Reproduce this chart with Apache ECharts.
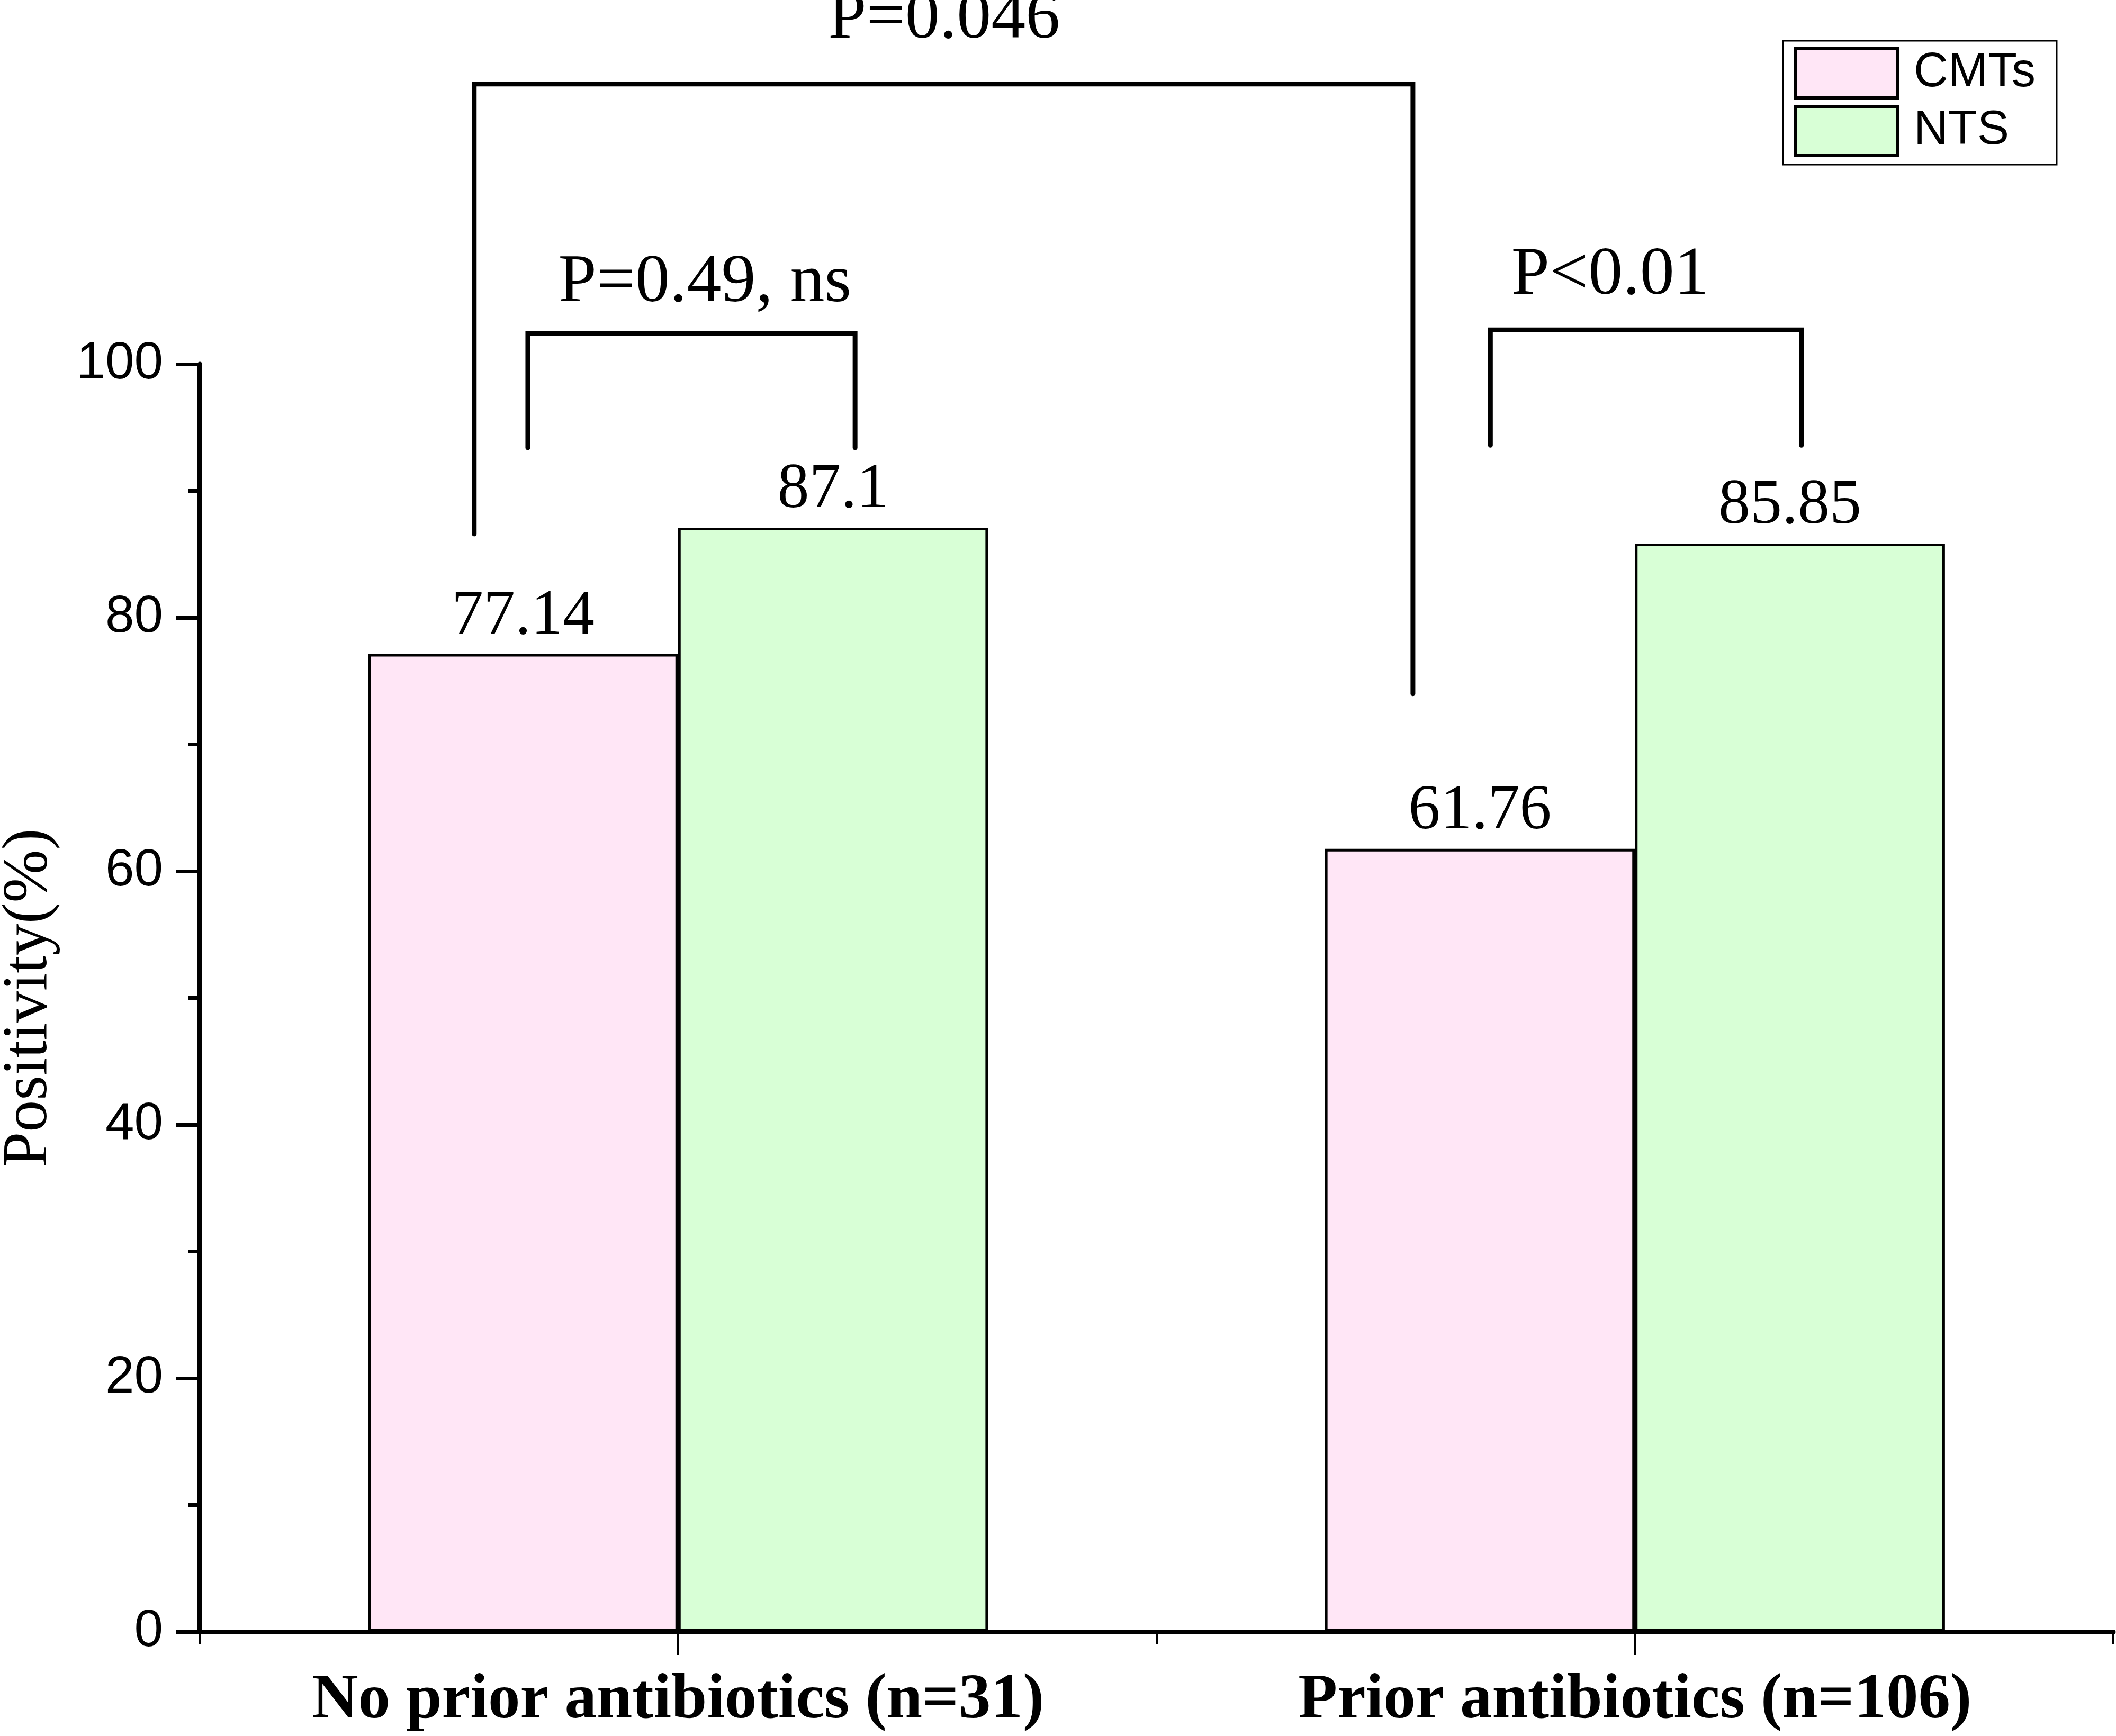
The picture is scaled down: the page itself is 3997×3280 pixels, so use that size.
<!DOCTYPE html>
<html>
<head>
<meta charset="utf-8">
<script src="https://cdn.jsdelivr.net/npm/echarts@6/dist/echarts.min.js"></script>
<style>html,body{margin:0;padding:0;background:#fff;}#c{width:3997px;height:3280px;}</style>
</head>
<body>
<div id="c"></div>
<script>
// ---- data ----
const categories = ['No prior antibiotics (n=31)', 'Prior antibiotics (n=106)'];
const seriesNames = ['CMTs', 'NTS'];
const cmtsValues = [77.14, 61.76];
const ntsValues = [87.1, 85.85];
const yTicks = [0, 20, 40, 60, 80, 100];
// significance brackets (x in category units: 0 = first group centre, 1 = second; y in %)
const bracketLabels = ['P=0.046', 'P=0.49, ns', 'P<0.01'];
const bracketX1 = [-0.213, -0.157, 0.849];
const bracketX2 = [0.768, 0.185, 1.174];
const bracketTop = [122.1, 102.4, 102.7];
const bracketLeftEnd = [86.6, 93.4, 93.6];
const bracketRightEnd = [74.0, 93.4, 93.6];
const bracketLabelX = [0.278, 0.028, 0.974];
const bracketLabelY = [125.4, 104.6, 105.2];

const SERIF = 'Liberation Serif';
const SANS = 'Liberation Sans';
const bracketData = bracketLabels.map((_, i) => [bracketX1[i], bracketX2[i], bracketTop[i], bracketLeftEnd[i], bracketRightEnd[i], bracketLabelX[i], bracketLabelY[i]]);

const chart = echarts.init(document.getElementById('c'), null, {renderer: 'canvas'});
const barLabel = {show: true, position: 'top', distance: 10, color: '#000', fontFamily: SERIF, fontSize: 120};
chart.setOption({
  animation: false,
  backgroundColor: '#fff',
  grid: {left: 377, right: 5, top: 688, bottom: 197, containLabel: false, outerBoundsMode: 'none'},
  legend: {
    data: seriesNames, orient: 'vertical', left: 3368, top: 77,
    icon: 'rect', itemWidth: 193, itemHeight: 93, itemGap: 10,
    borderColor: '#000', borderWidth: 3, padding: [12, 40, 14, 20],
    itemStyle: {borderColor: '#000', borderWidth: 6},
    textStyle: {fontFamily: SANS, fontSize: 90, lineHeight: 90, color: '#000', padding: [0, 0, 0, 26]}
  },
  xAxis: [
    {type: 'category', data: categories, position: 'bottom',
     axisLine: {onZero: false, lineStyle: {color: '#000', width: 9}},
     axisTick: {show: true, length: 24, lineStyle: {color: '#000', width: 4}},
     axisLabel: {color: '#000', fontFamily: SERIF, fontWeight: 'bold', fontSize: 121, margin: 70}},
    {type: 'value', min: -0.5, max: 1.5, show: false},
    {type: 'category', data: categories, position: 'bottom',
     axisLine: {show: false, onZero: false},
     axisTick: {show: true, alignWithLabel: true, length: 44, lineStyle: {color: '#000', width: 4}},
     axisLabel: {show: false}}
  ],
  yAxis: {
    type: 'value', min: 0, max: 100, interval: 20,
    name: 'Positivity(%)', nameLocation: 'middle', nameGap: 262,
    nameTextStyle: {fontFamily: SERIF, fontSize: 120, color: '#000'},
    axisLine: {show: true, onZero: false, lineStyle: {color: '#000', width: 9}},
    axisTick: {show: true, length: 44, lineStyle: {color: '#000', width: 7}},
    minorTick: {show: true, splitNumber: 2, length: 22, lineStyle: {color: '#000', width: 7}},
    splitLine: {show: false},
    axisLabel: {color: '#000', fontFamily: SANS, fontSize: 98, margin: 69,
      formatter: v => yTicks.includes(v) ? String(v) : ''}
  },
  series: [
    {name: seriesNames[0], type: 'bar', xAxisIndex: 0, data: cmtsValues, barWidth: '32.4%', barGap: '0%',
     itemStyle: {color: '#FFE6F6', borderColor: '#000', borderWidth: 5}, label: barLabel},
    {name: seriesNames[1], type: 'bar', xAxisIndex: 0, data: ntsValues, barWidth: '32.4%', barGap: '0%',
     itemStyle: {color: '#D8FFD6', borderColor: '#000', borderWidth: 5}, label: barLabel},
    {type: 'custom', xAxisIndex: 1, yAxisIndex: 0, clip: false, silent: true,
     encode: {x: [0, 1, 5], y: [2, 3, 4, 6]},
     data: bracketData,
     renderItem: function (params, api) {
       const a = api.coord([api.value(0), api.value(3)]);
       const b = api.coord([api.value(0), api.value(2)]);
       const c = api.coord([api.value(1), api.value(2)]);
       const d = api.coord([api.value(1), api.value(4)]);
       const l = api.coord([api.value(5), api.value(6)]);
       return {type: 'group', children: [
         {type: 'polyline', shape: {points: [a, b, c, d]},
          style: {stroke: '#000', lineWidth: 9, fill: null, lineJoin: 'miter', lineCap: 'round'}},
         {type: 'text', style: {text: bracketLabels[params.dataIndex], x: l[0], y: l[1] + 22,
          align: 'center', verticalAlign: 'bottom', fontFamily: SERIF, fontSize: 130, fill: '#000'}}
       ]};
     }}
  ]
});
</script>
</body>
</html>
